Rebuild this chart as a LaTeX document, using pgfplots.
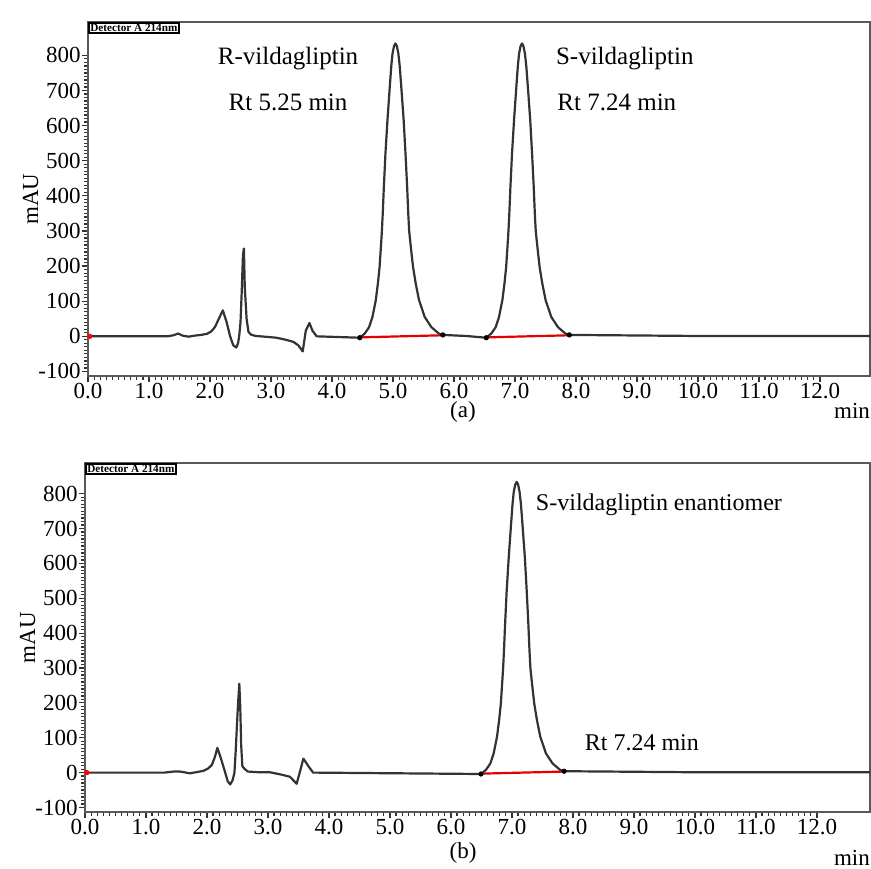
\documentclass[border=0pt]{standalone}
\usepackage{fontspec}
\setmainfont{Liberation Serif}
\usepackage{pgfplots}
\pgfplotsset{compat=1.18}

% common look of the two chromatogram panels
\pgfplotsset{
  chrom/.style={
    scale only axis,
    anchor=north west,
    xmin=0, ymin=-113,
    xtick={0,1,...,12},
    ytick={-100,0,100,...,800},
    minor x tick num=9, minor y tick num=9,
    xtick pos=lower, ytick pos=left,
    tick align=outside,
    major tick length=3pt, minor tick length=1.8pt,
    tick style={black!80, line width=0.6pt},
    axis line style={black!65, line width=1pt},
    /pgf/number format/assume math mode=true,
    xticklabel style={yshift=0.3pt, /pgf/number format/.cd, fixed, fixed zerofill, precision=1},
    yticklabel style={/pgf/number format/.cd, fixed},
    ticklabel style={font=\fontsize{11.5}{12}\selectfont, inner sep=0.5pt},
    ylabel={mAU},
    ylabel style={font=\fontsize{11.5}{12}\selectfont, yshift=-4pt},
    xlabel={min},
    xlabel style={font=\fontsize{11.5}{12}\selectfont, anchor=north},
    clip=false,
  },
  trace/.style={black!80, line width=1.1pt, line join=round},
  base/.style={red!90!black, line width=1.1pt},
  ends/.style={only marks, mark=*, mark size=1.1pt, black},
}
\tikzset{
  ann/.style={font=\fontsize{12.5}{14}\selectfont},
  det/.style={anchor=north west, draw, line width=0.9pt, inner sep=0.7pt,
    font=\fontsize{5.6}{5.6}\selectfont\bfseries},
  panel/.style={font=\fontsize{11.5}{12}\selectfont, inner sep=0.5pt},
}

\begin{document}
\begin{tikzpicture}
\useasboundingbox (0,0) rectangle (435.5pt,-434pt);

% ---------- (a) racemic mixture ----------
\begin{axis}[chrom, at={(44pt,-11pt)}, width=391pt, height=177pt,
  xmax=12.82, ymax=895,
  xlabel style={at={(axis description cs:0.977,-0.056)}}]
\addplot[base] coordinates {(4.455,-3) (5.816,3)};
\addplot[base] coordinates {(6.53,-3) (7.891,3)};
\addplot[trace] coordinates {
 (0,0) (1.3,0) (1.4,3) (1.48,8) (1.55,2) (1.65,-1) (1.75,2) (1.85,4) (1.95,7)
 (2.02,14) (2.08,26) (2.15,52) (2.21,74) (2.27,42) (2.33,0) (2.38,-25)
 (2.43,-32) (2.46,-20) (2.48,3) (2.50,40) (2.52,126) (2.54,230) (2.556,250)
 (2.57,140) (2.60,50) (2.63,13) (2.67,5) (2.75,1) (2.9,-1) (3.09,-4)
 (3.25,-10) (3.37,-16) (3.45,-26) (3.52,-43) (3.57,16) (3.63,38) (3.68,16)
 (3.75,0) (4.455,-4)
 (4.537,8) (4.608,26) (4.663,55) (4.718,103) (4.752,150) (4.78,197)
 (4.80,250) (4.818,300) (4.832,350) (4.85,425) (4.876,520) (4.909,615)
 (4.947,710) (4.972,770) (4.992,805) (5.016,826) (5.04,834)
 (5.064,826) (5.088,805) (5.11,770) (5.136,710) (5.175,615) (5.205,520)
 (5.232,425) (5.25,350) (5.265,300) (5.295,250) (5.329,197) (5.373,150)
 (5.427,103) (5.52,55) (5.63,26) (5.75,8) (5.816,4)
 (6.2,1) (6.53,-4)
 (6.612,8) (6.683,26) (6.738,55) (6.793,103) (6.827,150) (6.855,197)
 (6.875,250) (6.893,300) (6.907,350) (6.925,425) (6.951,520) (6.984,615)
 (7.022,710) (7.047,770) (7.067,805) (7.091,826) (7.115,834)
 (7.139,826) (7.163,805) (7.185,770) (7.211,710) (7.25,615) (7.28,520)
 (7.307,425) (7.325,350) (7.34,300) (7.37,250) (7.404,197) (7.448,150)
 (7.502,103) (7.595,55) (7.705,26) (7.825,8) (7.891,4)
 (10,1) (12.82,1)
};
\addplot[ends] coordinates {(4.455,-4) (5.816,4) (6.53,-4) (7.891,4)};
\addplot[only marks, mark=*, mark size=1.1pt, red] coordinates {(0.03,0)};
\node[ann] at (axis cs:3.28,792) {R-vildagliptin};
\node[ann] at (axis cs:3.28,667) {Rt 5.25 min};
\node[ann] at (axis cs:8.80,792) {S-vildagliptin};
\node[ann] at (axis cs:8.67,667) {Rt 7.24 min};
\node[det] at (rel axis cs:0,1) {Detector A 214nm};
\end{axis}

% ---------- (b) pure enantiomer ----------
\begin{axis}[chrom, at={(42.5pt,-231.5pt)}, width=392.5pt, height=174.5pt,
  xmax=12.87, ymax=888,
  xlabel style={at={(axis description cs:0.977,-0.089)}}]
\addplot[base] coordinates {(6.492,-3) (7.853,3)};
\addplot[trace] coordinates {
 (0,0) (1.3,0) (1.45,3) (1.56,3) (1.72,-2) (1.85,2) (1.94,5) (2.02,12)
 (2.08,22) (2.13,45) (2.17,71) (2.23,40) (2.29,5) (2.34,-25) (2.38,-34)
 (2.42,-22) (2.45,0) (2.47,60) (2.49,133) (2.51,200) (2.53,255) (2.545,190)
 (2.56,80) (2.58,18) (2.62,10) (2.67,3) (2.85,1) (3.03,1) (3.2,-5)
 (3.36,-12) (3.47,-32) (3.52,0) (3.58,40) (3.66,19) (3.74,0) (6.492,-4)
 (6.574,8) (6.645,26) (6.70,55) (6.755,103) (6.789,150) (6.817,197)
 (6.837,250) (6.855,300) (6.869,350) (6.887,425) (6.913,520) (6.946,615)
 (6.984,710) (7.009,770) (7.029,805) (7.053,826) (7.077,834)
 (7.101,826) (7.125,805) (7.147,770) (7.173,710) (7.212,615) (7.242,520)
 (7.269,425) (7.287,350) (7.302,300) (7.332,250) (7.366,197) (7.41,150)
 (7.464,103) (7.557,55) (7.667,26) (7.787,8) (7.853,4)
 (10,1) (12.87,1)
};
\addplot[ends] coordinates {(6.492,-4) (7.853,4)};
\addplot[only marks, mark=*, mark size=1.1pt, red] coordinates {(0.03,0)};
\node[ann, font=\fontsize{12}{14}\selectfont] at (axis cs:9.41,768) {S-vildagliptin enantiomer};
\node[ann, font=\fontsize{12}{14}\selectfont] at (axis cs:9.13,85) {Rt 7.24 min};
\node[det] at (rel axis cs:0,1) {Detector A 214nm};
\end{axis}

\node[panel] at (231.5pt,-206pt) {(a)};
\node[panel] at (231.5pt,-426.5pt) {(b)};
\end{tikzpicture}
\end{document}
